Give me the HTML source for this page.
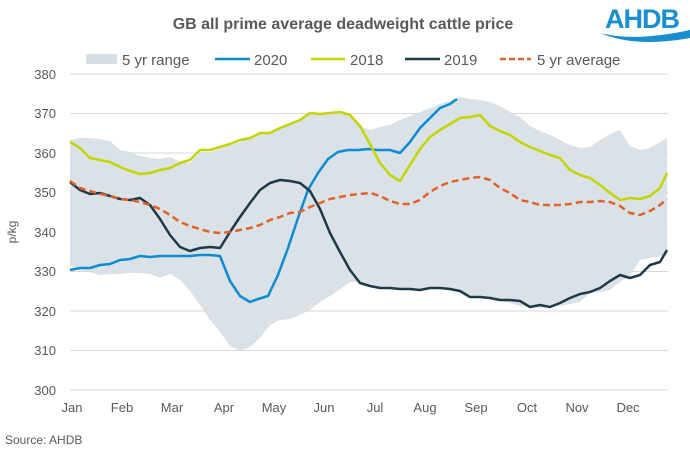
<!DOCTYPE html><html><head><style>body{margin:0;background:#fff}svg{font-family:"Liberation Sans",sans-serif}</style></head><body>
<svg width="690" height="453" viewBox="0 0 690 453">
<text x="343" y="29" text-anchor="middle" font-size="16" font-weight="bold" fill="#595959">GB all prime average deadweight cattle price</text>
<text x="605" y="28" font-size="27" font-weight="bold" fill="#1a8fd0" letter-spacing="-1">AHDB</text>
<path d="M600 33 Q635 42 690 30 L690 38 Q635 48 600 33Z" fill="#1a8fd0"/>
<g stroke="#d9d9d9" stroke-width="1">
<line x1="70" x2="668" y1="74" y2="74"/><line x1="70" x2="668" y1="113.5" y2="113.5"/><line x1="70" x2="668" y1="153" y2="153"/><line x1="70" x2="668" y1="192.5" y2="192.5"/><line x1="70" x2="668" y1="232" y2="232"/><line x1="70" x2="668" y1="271.5" y2="271.5"/><line x1="70" x2="668" y1="311" y2="311"/><line x1="70" x2="668" y1="350.5" y2="350.5"/><line x1="70" x2="668" y1="390" y2="390"/></g>
<g font-size="13" fill="#595959" text-anchor="end">
<text x="56" y="79">380</text><text x="56" y="118">370</text><text x="56" y="158">360</text><text x="56" y="197">350</text><text x="56" y="237">340</text><text x="56" y="276">330</text><text x="56" y="316">320</text><text x="56" y="355">310</text><text x="56" y="395">300</text></g>
<text x="16" y="232" font-size="12" fill="#595959" transform="rotate(-90 16 232)" text-anchor="middle">p/kg</text>
<g font-size="13" fill="#595959" text-anchor="middle">
<text x="72" y="412">Jan</text><text x="122" y="412">Feb</text><text x="172" y="412">Mar</text><text x="224" y="412">Apr</text><text x="274" y="412">May</text><text x="324" y="412">Jun</text><text x="375" y="412">Jul</text><text x="425" y="412">Aug</text><text x="476" y="412">Sep</text><text x="527" y="412">Oct</text><text x="577" y="412">Nov</text><text x="628" y="412">Dec</text></g>
<text x="5" y="444" font-size="12" fill="#595959">Source: AHDB</text>
<polygon fill="#d6dfe4" opacity="0.9" points="70,140 80,138 90,138 100,139 110,141 120,150 130,152 140,156 150,158 160,159 170,157 180,162 190,163 200,152 210,152 220,149 230,145 240,142 250,137 260,133 270,133 280,128 290,124 300,120 310,114 320,113 330,113 340,112 350,117 360,126 370,130 380,127 390,125 400,120 420,112 440,104 460,97 470,99 480,100 490,102 500,106 510,112 520,117 530,126 540,131 550,135 560,140 570,145 580,148 590,147 600,140 610,134 620,130 630,146 640,150 650,148 667,138 667,255 650,258 640,260 630,276 620,282 610,290 600,292 590,293 580,302 570,304 560,306 550,307 540,308 530,307 520,306 510,303 500,301 490,297 480,297 470,295 460,290 450,290 440,288 430,288 420,289 410,288 400,288 390,287 380,287 370,285 360,282 350,282 340,289 330,296 320,302 310,310 300,315 290,319 280,320 270,325 260,338 250,347 240,351 230,346 220,332 210,320 200,305 190,291 180,280 170,274 160,278 150,274 140,273 130,273 120,274 110,274 100,275 90,272 80,270 70,265"/>
<g fill="none" stroke-width="2.5" stroke-linejoin="round">
<polyline stroke="#0e8bd1" points="70,270 80,268 90,268 100,265 110,264 120,260 130,259 140,256 150,257 160,256 170,256 180,256 190,256 200,255 210,255 220,256 230,281 240,296 250,302 258,299 268,296 278,275 288,248 298,218 308,190 318,173 328,159 338,152 348,150 358,150 368,149 378,150 390,150 400,153 410,142 420,128 430,118 440,108 450,104 457,99"/>
<polyline stroke="#c3d400" points="70,142 80,148 90,158 100,160 110,162 120,167 130,171 140,174 150,173 160,170 170,168 180,163 190,160 200,150 210,150 220,147 230,144 240,140 250,138 260,133 270,133 280,128 290,124 300,120 310,113 320,114 330,113 340,112 350,115 360,126 370,144 380,163 390,175 400,181 410,165 420,149 430,137 440,130 450,124 460,118 470,117 480,115 490,126 500,131 510,135 520,142 530,147 540,151 550,155 560,158 570,170 580,175 590,178 600,185 610,193 620,200 630,198 640,199 650,196 660,188 667,173"/>
<polyline stroke="#1f3a47" points="70,182 80,190 90,194 100,193 110,196 120,199 130,200 140,198 150,205 160,219 170,235 180,247 190,251 200,248 210,247 220,248 230,232 240,217 250,203 260,190 270,183 280,180 290,181 300,183 310,191 320,209 330,233 340,252 350,270 360,283 370,286 380,288 390,288 400,289 410,289 420,290 430,288 440,288 450,289 460,291 470,297 480,297 490,298 500,300 510,300 520,301 530,307 540,305 550,307 560,303 570,298 580,294 590,292 600,288 610,281 620,275 630,278 640,275 650,265 660,262 667,250"/>
<polyline stroke="#e0622a" stroke-dasharray="7,4" points="70,181 80,188 90,191 100,194 110,196 120,199 130,200 140,202 150,205 160,209 170,215 180,222 190,226 200,229 210,232 220,233 230,232 240,230 250,228 260,225 270,220 280,217 290,213 300,212 310,207 320,203 330,199 340,197 350,195 360,194 370,193 380,196 390,201 400,204 410,204 420,200 430,192 440,186 450,182 460,180 470,178 480,177 490,180 500,188 510,193 520,200 530,202 540,205 550,205 560,205 570,204 580,202 590,202 600,201 610,202 620,206 630,213 640,215 650,211 660,205 667,199"/>
</g>
<rect x="86" y="54" width="31" height="10" fill="#d6dfe4"/>
<g font-size="15" fill="#595959">
<text x="122" y="65">5 yr range</text><text x="254" y="65">2020</text><text x="350" y="65">2018</text><text x="444" y="65">2019</text><text x="537" y="65">5 yr average</text></g>
<g stroke-width="2.5"><line x1="215" x2="250" y1="59" y2="59" stroke="#0e8bd1"/><line x1="311" x2="345" y1="59" y2="59" stroke="#c3d400"/><line x1="405" x2="440" y1="59" y2="59" stroke="#1f3a47"/><line x1="500" x2="531" y1="59" y2="59" stroke="#e0622a" stroke-dasharray="6,3"/></g>
</svg></body></html>
